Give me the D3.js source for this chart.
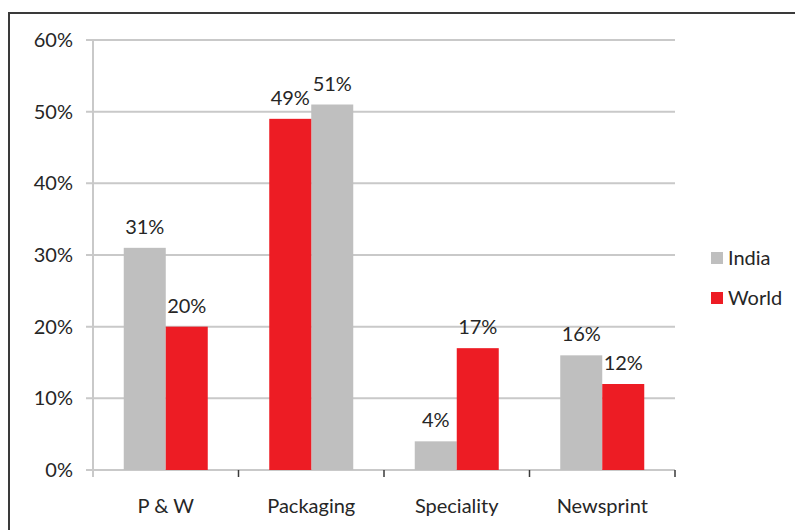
<!DOCTYPE html>
<html>
<head>
<meta charset="utf-8">
<script src="https://cdn.jsdelivr.net/npm/d3@7"></script>
<style>
  html, body { margin: 0; padding: 0; background: #fff; }
  svg { display: block; }
  text { font-family: Lato, "Open Sans", sans-serif; fill: #262626; }
</style>
</head>
<body>
<svg id="chart" width="795" height="530"></svg>
<script>
// Paper grade shares: India vs World
const categories = ["P & W", "Packaging", "Speciality", "Newsprint"];
const seriesNames = ["India", "World"];
const indiaValues = [31, 51, 4, 16];
const worldValues = [20, 49, 17, 12];
// Bar order within each grade group
const groupOrder = [
  ["India", "World"],
  ["World", "India"],
  ["India", "World"],
  ["India", "World"]
];
const yTicks = [0, 10, 20, 30, 40, 50, 60];

const colors = { India: "#BFBFBF", World: "#ED1C24" };
const valuesBySeries = { India: indiaValues, World: worldValues };
const fontSize = 20;

const svg = d3.select("#chart");

// outer chart frame
svg.append("rect")
  .attr("x", 9).attr("y", 13)
  .attr("width", 800).attr("height", 540)
  .attr("fill", "none")
  .attr("stroke", "#3a3a3a")
  .attr("stroke-width", 2);

const plot = { left: 93, right: 675, top: 40, bottom: 470 };

const x = d3.scaleBand()
  .domain(categories)
  .range([plot.left, plot.right])
  .padding(0);

const y = d3.scaleLinear()
  .domain([0, 60])
  .range([plot.bottom, plot.top]);

const gridColor = "#C9C9C9";

// horizontal gridlines with small ticks left of the axis
svg.append("g")
  .selectAll("line")
  .data(yTicks)
  .join("line")
  .attr("x1", plot.left - 7)
  .attr("x2", plot.right)
  .attr("y1", d => y(d))
  .attr("y2", d => y(d))
  .attr("stroke", gridColor)
  .attr("stroke-width", 2);

// y axis line
svg.append("line")
  .attr("x1", plot.left).attr("x2", plot.left)
  .attr("y1", plot.top).attr("y2", plot.bottom + 7)
  .attr("stroke", gridColor)
  .attr("stroke-width", 2);

// y tick labels
svg.append("g")
  .selectAll("text")
  .data(yTicks)
  .join("text")
  .attr("x", plot.left - 20)
  .attr("y", d => y(d))
  .attr("dy", "0.35em")
  .attr("text-anchor", "end")
  .attr("font-size", fontSize)
  .text(d => d + "%");

// category boundary ticks under the baseline
const boundaries = categories.map(c => x(c)).concat([plot.right]);
svg.append("g")
  .selectAll("line")
  .data(boundaries.slice(1))
  .join("line")
  .attr("x1", d => d).attr("x2", d => d)
  .attr("y1", plot.bottom).attr("y2", plot.bottom + 7)
  .attr("stroke", "#3a3a3a")
  .attr("stroke-width", 1.5);

// category labels
svg.append("g")
  .selectAll("text")
  .data(categories)
  .join("text")
  .attr("x", d => x(d) + x.bandwidth() / 2)
  .attr("y", 513)
  .attr("text-anchor", "middle")
  .attr("font-size", fontSize)
  .text(d => d);

// bars and value labels
const bars = [];
categories.forEach((cat, i) => {
  const sub = d3.scaleBand()
    .domain(groupOrder[i])
    .range([0, x.bandwidth()])
    .paddingInner(0)
    .paddingOuter(0.732);
  seriesNames.forEach(s => {
    bars.push({
      cat, series: s, value: valuesBySeries[s][i],
      x: x(cat) + sub(s), w: sub.bandwidth()
    });
  });
});

svg.append("g")
  .selectAll("rect")
  .data(bars)
  .join("rect")
  .attr("x", d => d.x)
  .attr("y", d => y(d.value))
  .attr("width", d => d.w)
  .attr("height", d => y(0) - y(d.value))
  .attr("fill", d => colors[d.series]);

svg.append("g")
  .selectAll("text")
  .data(bars)
  .join("text")
  .attr("x", d => d.x + d.w / 2)
  .attr("y", d => y(d.value) - 14)
  .attr("text-anchor", "middle")
  .attr("font-size", fontSize)
  .text(d => d.value + "%");

// legend
const legend = svg.append("g");
seriesNames.forEach((s, i) => {
  const ly = 258 + i * 40;
  legend.append("rect")
    .attr("x", 711).attr("y", ly - 6)
    .attr("width", 12).attr("height", 12)
    .attr("fill", colors[s]);
  legend.append("text")
    .attr("x", 728).attr("y", ly)
    .attr("dy", "0.35em")
    .attr("font-size", fontSize)
    .text(s);
});
</script>
</body>
</html>
